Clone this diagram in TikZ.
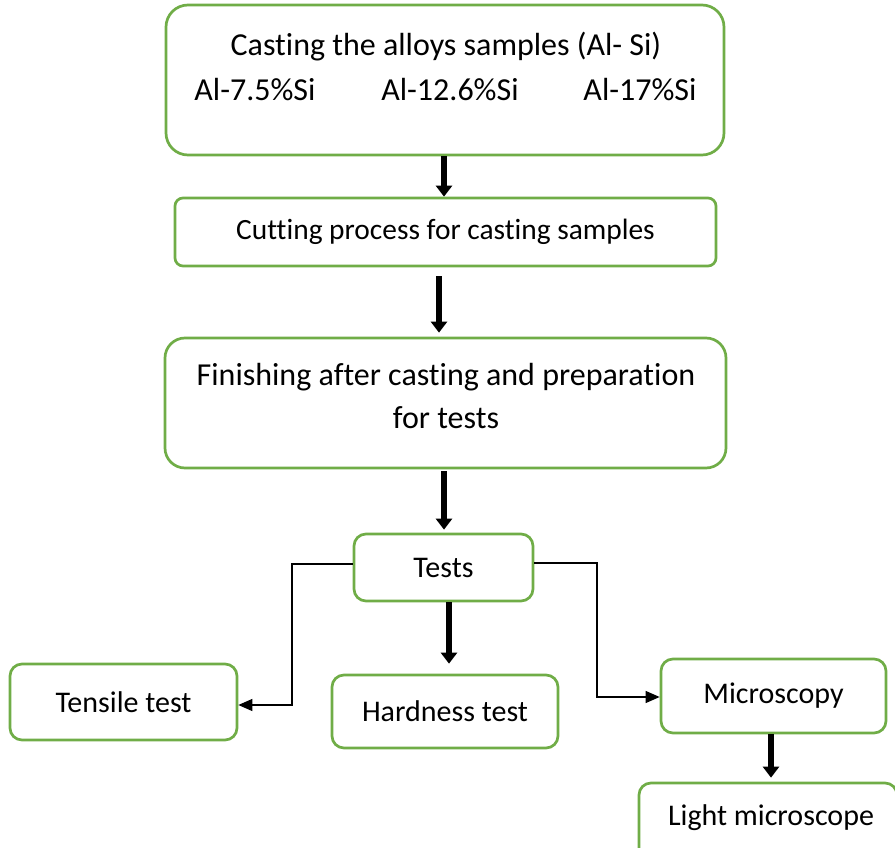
\documentclass[tikz,border=0pt]{standalone}
\usepackage{fontspec}
\setmainfont[Ligatures={TeX,NoCommon}]{Carlito}
\usetikzlibrary{arrows.meta}
\definecolor{boxgreen}{HTML}{70AD47}
\tikzset{
  gbox/.style={draw=boxgreen, line width=2.7pt, rounded corners=#1, fill=white, inner sep=0pt},
  gbox/.default=14pt,
  bigarrow/.style={line width=5.5pt, -{Triangle[width=16pt,length=11pt]}},
  thinarrow/.style={line width=1.1pt, -{Triangle[width=12pt,length=14pt]}},
  txt/.style={inner sep=0pt, font=\fontsize{30}{34}\selectfont},
  bigtxt/.style={inner sep=0pt, font=\fontsize{32}{36}\selectfont}
}
\begin{document}
\begin{tikzpicture}[x=1pt,y=-1pt]
\useasboundingbox (0,0) rectangle (895,848);
% boxes
\node[gbox=22pt, minimum width=558pt, minimum height=150pt] (cast) at (445,80) {};
\node[bigtxt] (castT) at (446,47) {Casting the alloys samples (Al- Si)};
\node[bigtxt] (s1) at (255,90) {Al-7.5\%Si};
\node[bigtxt] (s2) at (450,90) {Al-12.6\%Si};
\node[bigtxt] (s3) at (640,90) {Al-17\%Si};

\node[gbox=8pt, minimum width=541pt, minimum height=68pt, inner sep=0pt, font=\fontsize{29.4}{34}\selectfont] (cut) at (445.5,232) {Cutting process for casting samples};

\node[gbox=20pt, minimum width=561pt, minimum height=130pt] (fin) at (445.5,403) {};
\node[bigtxt] (finT1) at (446,377) {Finishing after casting and preparation};
\node[bigtxt] (finT2) at (446,418) {for tests};

\node[gbox=12pt, minimum width=179pt, minimum height=67pt, txt] (tests) at (443.5,567.5) {Tests};
\node[gbox=12pt, minimum width=227pt, minimum height=76pt, txt] (tensile) at (123.5,702) {Tensile test};
\node[gbox=12pt, minimum width=226pt, minimum height=73pt, txt] (hard) at (445,711.5) {Hardness test};
\node[gbox=12pt, minimum width=225pt, minimum height=74pt, txt] (micro) at (773.5,696) {Microscopy};
\node[gbox=12pt, minimum width=258pt, minimum height=84pt] (light) at (768,825) {};
\node[txt] (lightT) at (771,818) {Light microscope};

% thick arrows
\draw[bigarrow] ([xshift=-1pt]cast.south) -- ([xshift=-1pt]cast.south |- cut.north);
\draw[bigarrow] ([xshift=-6.5pt,yshift=-9pt]cut.south) -- ([xshift=-6.5pt,yshift=4pt]cut.south |- fin.north);
\draw[bigarrow] ([xshift=-1.5pt,yshift=-2pt]fin.south) -- ([xshift=-1.5pt,yshift=3pt]fin.south |- tests.north);
\draw[bigarrow] ([xshift=5.5pt]tests.south) -- ([xshift=5.5pt,yshift=10pt]tests.south |- hard.north);
\draw[bigarrow] ([xshift=-2.5pt]micro.south) -- ([xshift=-2.5pt,yshift=4pt]micro.south |- light.north);

% thin connectors
\coordinate (lturn) at (292,564);
\coordinate (rturn) at (597,563);
\draw[thinarrow] (lturn -| tests.west) -- (lturn) |- ([yshift=-3pt]tensile.east);
\draw[thinarrow] (rturn -| tests.east) -- (rturn) |- ([yshift=-1pt]micro.west);
\end{tikzpicture}
\end{document}
